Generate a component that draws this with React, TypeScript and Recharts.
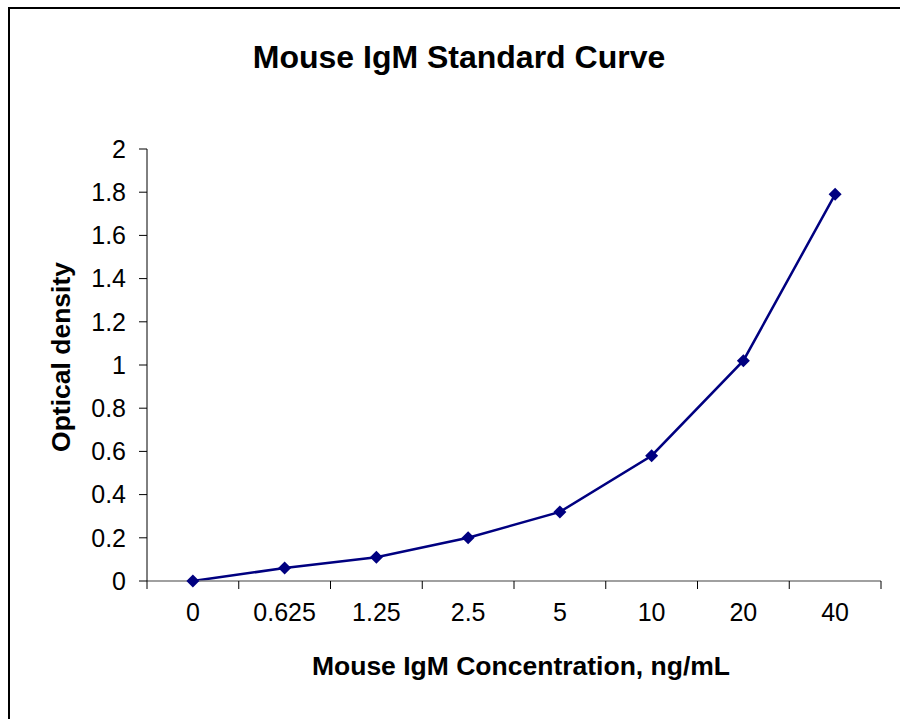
import { LineChart, Line, XAxis, YAxis } from "recharts";

const FONT = '"Liberation Sans", Arial, sans-serif';
const NAVY = "#000080";
const X_TICK_SIZE = 8;
const X_TICK_MARGIN = 14;

// mouse IgM standard: concentration (ng/mL) vs optical density
const concentrations = ["0", "0.625", "1.25", "2.5", "5", "10", "20", "40"];
const opticalDensity = [0, 0.06, 0.11, 0.2, 0.32, 0.58, 1.02, 1.79];
const yTicks = [0, 0.2, 0.4, 0.6, 0.8, 1, 1.2, 1.4, 1.6, 1.8, 2];

const data = concentrations.map((conc, i) => ({ conc, od: opticalDensity[i] }));

function Diamond(props: any) {
  const { cx, cy, index } = props;
  if (cx == null || cy == null) return <g key={index} />;
  const r = 6.5;
  return (
    <polygon
      key={index}
      points={`${cx},${cy - r} ${cx + r},${cy} ${cx},${cy + r} ${cx - r},${cy}`}
      fill={NAVY}
    />
  );
}

// label centred in the band, tick marks on the band boundaries
function XTick(props: any) {
  const { x, y, payload, index, visibleTicksCount } = props;
  const half = payload?.offset ?? 0;
  const y1 = y - X_TICK_MARGIN - X_TICK_SIZE;
  const y2 = y - X_TICK_MARGIN;
  const isLast = index === visibleTicksCount - 1;
  return (
    <g>
      <line x1={x - half} x2={x - half} y1={y1} y2={y2} stroke="#000" />
      {isLast && <line x1={x + half} x2={x + half} y1={y1} y2={y2} stroke="#000" />}
      <text x={x} y={y} dy="0.71em" textAnchor="middle" fontFamily={FONT} fontSize={25} fill="#000">
        {payload.value}
      </text>
    </g>
  );
}

function YTitle(props: any) {
  const vb = props.viewBox || {};
  const x = vb.x + 30;
  const y = vb.y + vb.height / 2 - 8;
  return (
    <text
      x={x}
      y={y}
      transform={`rotate(-90, ${x}, ${y})`}
      textAnchor="middle"
      fontFamily={FONT}
      fontWeight="bold"
      fontSize={26.5}
      fill="#000"
    >
      Optical density
    </text>
  );
}

export default function App() {
  return (
    <div style={{ position: "absolute", left: 0, top: 0, width: 900, height: 719, background: "#fff", overflow: "hidden" }}>
      <div
        style={{
          position: "absolute",
          left: 8,
          top: 7,
          width: 900,
          height: 719,
          borderLeft: "2px solid #000",
          borderTop: "2px solid #000",
        }}
      />
      <div
        style={{
          position: "absolute",
          left: 9,
          top: 41,
          width: 900,
          textAlign: "center",
          fontFamily: FONT,
          fontWeight: "bold",
          fontSize: 32,
          lineHeight: "32px",
          color: "#000",
        }}
      >
        Mouse IgM Standard Curve
      </div>
      <div style={{ position: "absolute", left: 0, top: 0 }}>
        <LineChart
          width={900}
          height={719}
          data={data}
          margin={{ top: 149, right: 19, bottom: 38, left: 40 }}
        >
          <XAxis
            dataKey="conc"
            scale="band"
            height={100}
            axisLine={{ stroke: "#808080", strokeWidth: 1.5 }}
            tickLine={false}
            tickSize={X_TICK_SIZE}
            tickMargin={X_TICK_MARGIN}
            interval={0}
            tick={XTick}
            label={{
              value: "Mouse IgM Concentration, ng/mL",
              position: "insideBottom",
              offset: 6,
              dx: 7,
              style: { fontWeight: "bold", fontSize: 26.5, fill: "#000", fontFamily: FONT },
            }}
          />
          <YAxis
            width={107}
            domain={[0, 2]}
            ticks={yTicks}
            interval={0}
            axisLine={{ stroke: "#000" }}
            tickLine={{ stroke: "#000" }}
            tickSize={8}
            tickMargin={13}
            tick={{ fill: "#000", fontSize: 25, fontFamily: FONT }}
            label={{ content: YTitle }}
          />
          <Line
            type="linear"
            dataKey="od"
            stroke={NAVY}
            strokeWidth={2.5}
            dot={Diamond}
            activeDot={false}
            isAnimationActive={false}
          />
        </LineChart>
      </div>
    </div>
  );
}
